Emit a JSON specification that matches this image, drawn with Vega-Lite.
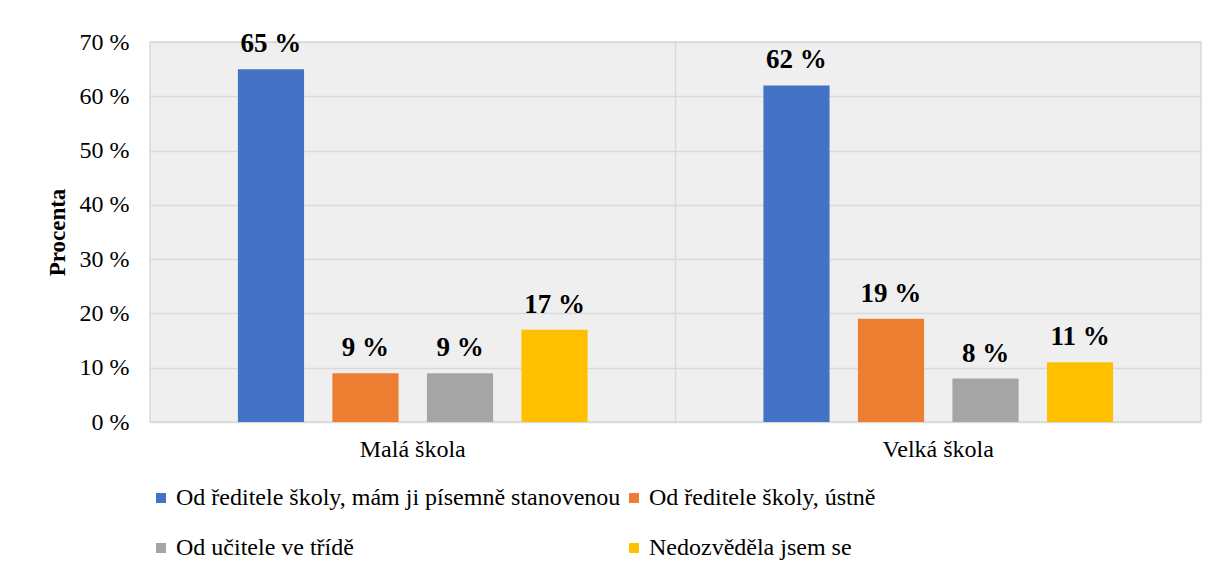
{
  "$schema": "https://vega.github.io/schema/vega-lite/v6.json",
  "width": 1051,
  "height": 380,
  "autosize": {"type": "none"},
  "padding": {"left": 150, "top": 42, "right": 18, "bottom": 148},
  "background": "white",
  "view": {"fill": "#efefef", "stroke": "#d9d9d9", "strokeWidth": 1.5},
  "config": {
    "font": "Times New Roman"
  },
  "datasets": {
    "main": [
      {"skola": "Malá škola", "kat": "Od ředitele školy, mám ji písemně stanovenou", "hodnota": 65},
      {"skola": "Malá škola", "kat": "Od ředitele školy, ústně", "hodnota": 9},
      {"skola": "Malá škola", "kat": "Od učitele ve třídě", "hodnota": 9},
      {"skola": "Malá škola", "kat": "Nedozvěděla jsem se", "hodnota": 17},
      {"skola": "Velká škola", "kat": "Od ředitele školy, mám ji písemně stanovenou", "hodnota": 62},
      {"skola": "Velká škola", "kat": "Od ředitele školy, ústně", "hodnota": 19},
      {"skola": "Velká škola", "kat": "Od učitele ve třídě", "hodnota": 8},
      {"skola": "Velká škola", "kat": "Nedozvěděla jsem se", "hodnota": 11}
    ],
    "divider": [{"skola": "Velká škola"}]
  },
  "layer": [
    {
      "data": {"name": "main"},
      "mark": {"type": "bar"},
      "encoding": {
        "x": {
          "field": "skola", "type": "nominal",
          "scale": {"paddingInner": 0, "paddingOuter": 0},
          "axis": {"title": null, "labelAngle": 0, "labelFont": "Times New Roman", "labelFontSize": 24, "labelColor": "#000000", "labelPadding": 15, "domain": false, "ticks": false, "grid": false}
        },
        "xOffset": {
          "field": "kat", "type": "nominal",
          "sort": ["Od ředitele školy, mám ji písemně stanovenou", "Od ředitele školy, ústně", "Od učitele ve třídě", "Nedozvěděla jsem se"],
          "scale": {"paddingInner": 0.3, "paddingOuter": 0.93}
        },
        "y": {
          "field": "hodnota", "type": "quantitative",
          "scale": {"domain": [0, 70], "nice": false},
          "axis": {
            "title": "Procenta", "titleFont": "Times New Roman", "titleFontSize": 23, "titleFontWeight": "bold", "titleColor": "#000000", "titlePadding": 10,
            "values": [0, 10, 20, 30, 40, 50, 60, 70],
            "labelExpr": "datum.value + ' %'",
            "labelFont": "Times New Roman", "labelFontSize": 24, "labelColor": "#000000", "labelPadding": 21,
            "domain": false, "ticks": false,
            "grid": true, "gridColor": "#d9d9d9", "gridWidth": 1.5
          }
        },
        "color": {
          "field": "kat", "type": "nominal",
          "sort": ["Od ředitele školy, mám ji písemně stanovenou", "Od ředitele školy, ústně", "Od učitele ve třídě", "Nedozvěděla jsem se"],
          "scale": {
            "domain": ["Od ředitele školy, mám ji písemně stanovenou", "Od ředitele školy, ústně", "Od učitele ve třídě", "Nedozvěděla jsem se"],
            "range": ["#4472C4", "#ED7D31", "#A5A5A5", "#FFC000"]
          },
          "legend": {
            "title": null, "orient": "none", "legendX": -1, "legendY": 444,
            "direction": "horizontal", "columns": 2, "columnPadding": 1, "rowPadding": 26,
            "symbolType": "square", "symbolSize": 100, "symbolStrokeWidth": 0,
            "labelFont": "Times New Roman", "labelFontSize": 24, "labelColor": "#000000", "labelOffset": 3, "labelLimit": 600
          }
        }
      }
    },
    {
      "data": {"name": "main"},
      "transform": [{"calculate": "datum.hodnota + ' %'", "as": "lbl"}],
      "mark": {"type": "text", "baseline": "bottom", "dy": -11, "font": "Times New Roman", "fontSize": 27, "fontWeight": "bold", "color": "#000000"},
      "encoding": {
        "x": {"field": "skola", "type": "nominal"},
        "xOffset": {"field": "kat", "type": "nominal", "sort": ["Od ředitele školy, mám ji písemně stanovenou", "Od ředitele školy, ústně", "Od učitele ve třídě", "Nedozvěděla jsem se"]},
        "y": {"field": "hodnota", "type": "quantitative"},
        "text": {"field": "lbl", "type": "nominal"}
      }
    },
    {
      "data": {"name": "divider"},
      "mark": {"type": "rule", "color": "#d9d9d9", "strokeWidth": 1.5},
      "encoding": {
        "x": {"field": "skola", "type": "nominal", "bandPosition": 0}
      }
    }
  ]
}
